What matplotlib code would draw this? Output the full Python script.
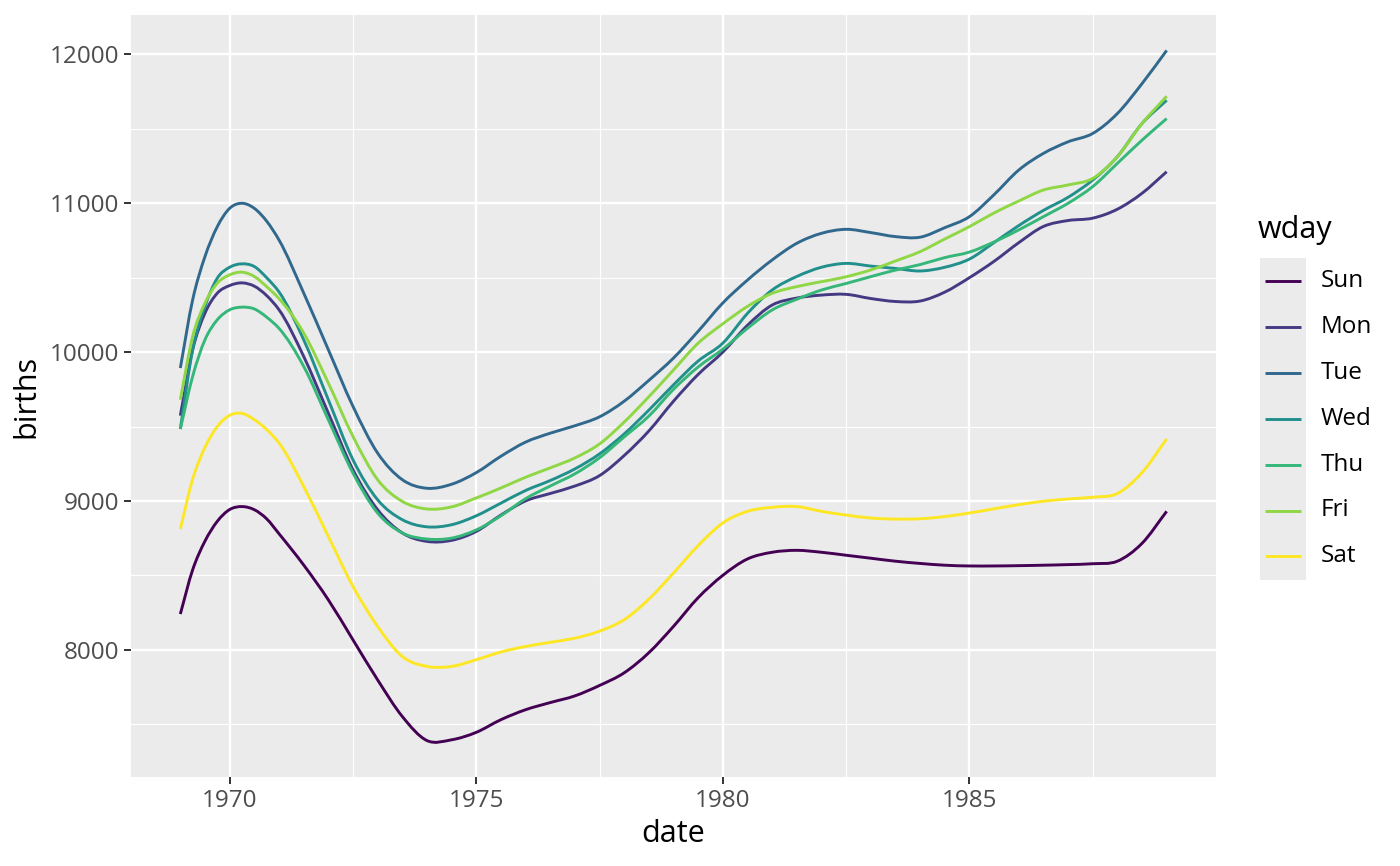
import numpy as np
import matplotlib
matplotlib.use("Agg")
import matplotlib.pyplot as plt
from matplotlib.lines import Line2D
from matplotlib.patches import Rectangle, PathPatch
from matplotlib.path import Path

# smoothed births per weekday

date = [1969.0, 1969.25, 1969.5, 1969.75, 1970.0, 1970.25, 1970.5, 1970.75,
        1971.0, 1971.5, 1972.0, 1972.5, 1973.0, 1973.5, 1974.0, 1974.5,
        1975.0, 1975.5, 1976.0, 1976.5, 1977.0, 1977.5, 1978.0, 1978.5,
        1979.0, 1979.5, 1980.0, 1980.5, 1981.0, 1981.5, 1982.0, 1982.5,
        1983.0, 1983.5, 1984.0, 1984.5, 1985.0, 1985.5, 1986.0, 1986.5,
        1987.0, 1987.5, 1988.0, 1988.5, 1989.0]

sun = [8240, 8537, 8730, 8863, 8942, 8962, 8941, 8880,
       8780, 8570, 8336, 8067, 7798, 7552, 7390, 7395,
       7445, 7530, 7597, 7645, 7690, 7760, 7845, 7980,
       8157, 8350, 8500, 8610, 8655, 8668, 8655, 8635,
       8615, 8595, 8580, 8568, 8563, 8563, 8565, 8568,
       8572, 8578, 8595, 8715, 8930]

mon = [9573, 10016, 10262, 10396, 10447, 10465, 10443, 10380,
       10285, 9972, 9591, 9210, 8941, 8785, 8728, 8735,
       8795, 8905, 9000, 9050, 9100, 9170, 9305, 9470,
       9670, 9850, 10000, 10180, 10316, 10363, 10383, 10388,
       10360, 10340, 10343, 10403, 10500, 10610, 10735, 10844,
       10884, 10900, 10960, 11067, 11212]

tue = [9893, 10351, 10642, 10843, 10966, 11000, 10966, 10880,
       10754, 10398, 10017, 9636, 9322, 9143, 9085, 9112,
       9190, 9300, 9395, 9455, 9505, 9565, 9670, 9810,
       9960, 10140, 10330, 10484, 10619, 10731, 10798, 10825,
       10803, 10776, 10772, 10836, 10910, 11058, 11223, 11335,
       11413, 11469, 11603, 11804, 12027]

wed = [9483, 10016, 10307, 10497, 10570, 10593, 10575, 10500,
       10405, 10084, 9681, 9277, 9008, 8874, 8826, 8840,
       8900, 8985, 9070, 9137, 9215, 9316, 9450, 9610,
       9780, 9940, 10060, 10260, 10417, 10508, 10570, 10596,
       10578, 10562, 10545, 10570, 10625, 10736, 10850, 10952,
       11040, 11156, 11313, 11536, 11692]

thu = [9483, 9837, 10083, 10217, 10284, 10302, 10290, 10235,
       10160, 9905, 9546, 9188, 8919, 8785, 8744, 8750,
       8805, 8900, 9015, 9100, 9182, 9290, 9430, 9570,
       9750, 9900, 10020, 10160, 10283, 10355, 10417, 10461,
       10507, 10551, 10588, 10635, 10672, 10740, 10821, 10910,
       11000, 11112, 11268, 11424, 11569]

fri = [9680, 10105, 10329, 10463, 10519, 10537, 10508, 10440,
       10360, 10129, 9793, 9434, 9143, 8997, 8946, 8960,
       9020, 9087, 9159, 9222, 9289, 9383, 9530, 9700,
       9880, 10060, 10190, 10307, 10395, 10440, 10473, 10506,
       10552, 10612, 10675, 10760, 10843, 10935, 11015, 11089,
       11123, 11167, 11313, 11536, 11719]

sat = [8811, 9146, 9360, 9500, 9575, 9588, 9546, 9480,
       9390, 9098, 8762, 8426, 8157, 7955, 7888, 7888,
       7933, 7985, 8022, 8050, 8078, 8125, 8202, 8340,
       8516, 8700, 8852, 8930, 8957, 8962, 8930, 8905,
       8885, 8878, 8880, 8895, 8919, 8947, 8975, 8998,
       9013, 9025, 9050, 9190, 9417]

wdays = ["Sun", "Mon", "Tue", "Wed", "Thu", "Fri", "Sat"]
series = [sun, mon, tue, wed, thu, fri, sat]
colors = ["#440154", "#443A83", "#31688E", "#21908C", "#35B779", "#8FD744", "#FDE725"]

x_major = [1970, 1975, 1980, 1985]
x_minor = [1972.5, 1977.5, 1982.5, 1987.5]
y_major = [8000, 9000, 10000, 11000, 12000]
y_minor = [7500, 8500, 9500, 10500, 11500]


def smooth_path(x, y):
    # draw the points as one curve: cubic Bezier segments with Hermite tangents
    x = np.asarray(x, float)
    y = np.asarray(y, float)
    m = np.gradient(y, x)
    verts = [(x[0], y[0])]
    codes = [Path.MOVETO]
    for i in range(len(x) - 1):
        h = x[i + 1] - x[i]
        verts += [(x[i] + h / 3, y[i] + m[i] * h / 3),
                  (x[i + 1] - h / 3, y[i + 1] - m[i + 1] * h / 3),
                  (x[i + 1], y[i + 1])]
        codes += [Path.CURVE4] * 3
    return Path(verts, codes)


plt.rcParams['font.family'] = ['Open Sans', 'DejaVu Sans']

W, H = 1400, 866
fig = plt.figure(figsize=(W / 100, H / 100), dpi=100)
ax = fig.add_axes([131 / W, 1 - 777 / H, (1216 - 131) / W, (777 - 15) / H])
ax.set_facecolor("#EBEBEB")
for s in ax.spines.values():
    s.set_visible(False)

ax.set_xticks(x_major)
ax.set_xticks(x_minor, minor=True)
ax.set_yticks(y_major)
ax.set_yticks(y_minor, minor=True)
ax.grid(which="major", color="white", lw=1.7)
ax.grid(which="minor", color="white", lw=0.85)
ax.set_axisbelow(True)

for vals, c in zip(series, colors):
    ax.add_patch(PathPatch(smooth_path(date, vals), facecolor="none",
                           edgecolor=c, lw=2.1, capstyle="butt"))

ax.set_xlim(1968, 1990)
ax.set_ylim(7145, 12265)

ax.tick_params(which="major", length=5.2, width=1.4, color="#333333",
               labelsize=17.5, labelcolor="#4D4D4D", pad=3.5)
ax.tick_params(which="minor", length=0)
ax.set_xlabel("date", fontsize=22, labelpad=4)
ax.set_ylabel("births", fontsize=22, labelpad=6)

# legend in ggplot style
tr = fig.transFigure
fig.text(1258 / W, 1 - 230 / H, "wday", fontsize=22, ha="left", va="center")
fig.patches.append(Rectangle((1260 / W, 1 - 580 / H), 46 / W, 322 / H,
                             transform=tr, facecolor="#EBEBEB", edgecolor="none"))
for i, (lab, c) in enumerate(zip(wdays, colors)):
    yk = 1 - (281 + 45.9 * i) / H
    fig.lines.append(Line2D([1265 / W, 1301 / W], [yk, yk], transform=tr,
                            color=c, lw=2.1, solid_capstyle="butt"))
    fig.text(1321 / W, yk, lab, fontsize=17.5, ha="left", va="center")

fig.savefig("out.png", dpi=100)
